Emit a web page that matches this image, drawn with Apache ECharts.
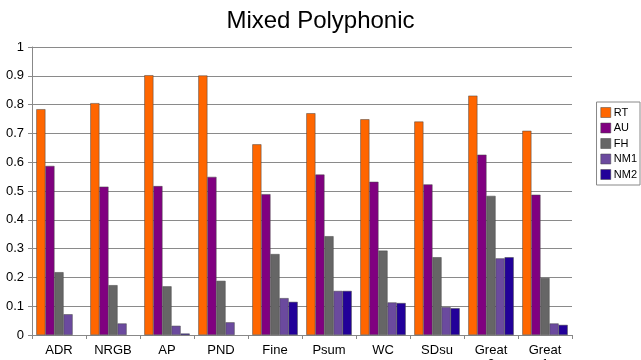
<!DOCTYPE html>
<html><head><meta charset="utf-8">
<script src="https://cdn.jsdelivr.net/npm/echarts@6/dist/echarts.min.js"></script>
<style>html,body{margin:0;padding:0;background:#fff}#c{width:641px;height:360px}</style>
</head><body><div id="c"></div>
<script>
var categories = ['ADR','NRGB','AP','PND','Fine','Psum','WC','SDsu','Great\n2','Great\n1'];
var seriesNames = ['RT','AU','FH','NM1','NM2'];
var RT  = [0.784,0.805,0.902,0.901,0.662,0.770,0.749,0.741,0.831,0.709];
var AU  = [0.587,0.515,0.517,0.549,0.489,0.557,0.532,0.523,0.626,0.487];
var FH  = [0.218,0.173,0.169,0.188,0.281,0.343,0.293,0.270,0.483,0.198];
var NM1 = [0.072,0.040,0.032,0.044,0.128,0.153,0.113,0.097,0.266,0.040];
var NM2 = [0.000,0.000,0.005,0.000,0.115,0.153,0.111,0.093,0.270,0.035];
var yTicks = {min:0, max:1, interval:0.1};
var colors = ['#ff6600','#800080','#666666','#6b4a9e','#220099'];
var values = [RT,AU,FH,NM1,NM2];

var chart = echarts.init(document.getElementById('c'), null, {renderer:'canvas'});
chart.setOption({
  animation:false,
  backgroundColor:'#fff',
  title:{text:'Mixed Polyphonic', left:'center', top:4,
    textStyle:{fontFamily:'Liberation Sans, Arial, sans-serif', fontSize:24, fontWeight:'normal', color:'#000'}},
  legend:{orient:'vertical', right:1, top:102, itemWidth:10, itemHeight:10, itemGap:4.5,
    padding:[5,3,5,4], borderColor:'#888', borderWidth:1, icon:'rect',
    itemStyle:{borderColor:'#444', borderWidth:0.5},
    textStyle:{fontFamily:'Liberation Sans, Arial, sans-serif', fontSize:11, color:'#000', padding:[0,0,0,-2]},
    data:seriesNames},
  grid:{left:32, right:69, top:47, bottom:25, containLabel:false, outerBoundsMode:'none'},
  xAxis:{type:'category', data:categories,
    axisLine:{lineStyle:{color:'#888'}},
    axisTick:{show:true, length:4, lineStyle:{color:'#888'}},
    axisLabel:{fontFamily:'Liberation Sans, Arial, sans-serif', fontSize:13, color:'#000', margin:8, lineHeight:14, interval:0}},
  yAxis:{type:'value', min:yTicks.min, max:yTicks.max, interval:yTicks.interval,
    axisLine:{show:true, lineStyle:{color:'#888'}},
    axisTick:{show:true, length:4, lineStyle:{color:'#888'}},
    splitLine:{lineStyle:{color:'#8a8a8a', width:1}},
    axisLabel:{fontFamily:'Liberation Sans, Arial, sans-serif', fontSize:13, color:'#000', margin:8,
      formatter:function(v){return String(Math.round(v*10)/10);}}},
  series: seriesNames.map(function(n,i){
    return {name:n, type:'bar', barGap:'0%', barCategoryGap:'16%',
      data: values[i].map(function(v){ return v === 0 ? {value:v, itemStyle:{borderWidth:0}} : v; }),
      itemStyle:{color:colors[i], borderColor:'#444', borderWidth:0.5}};
  })
});
</script></body></html>
